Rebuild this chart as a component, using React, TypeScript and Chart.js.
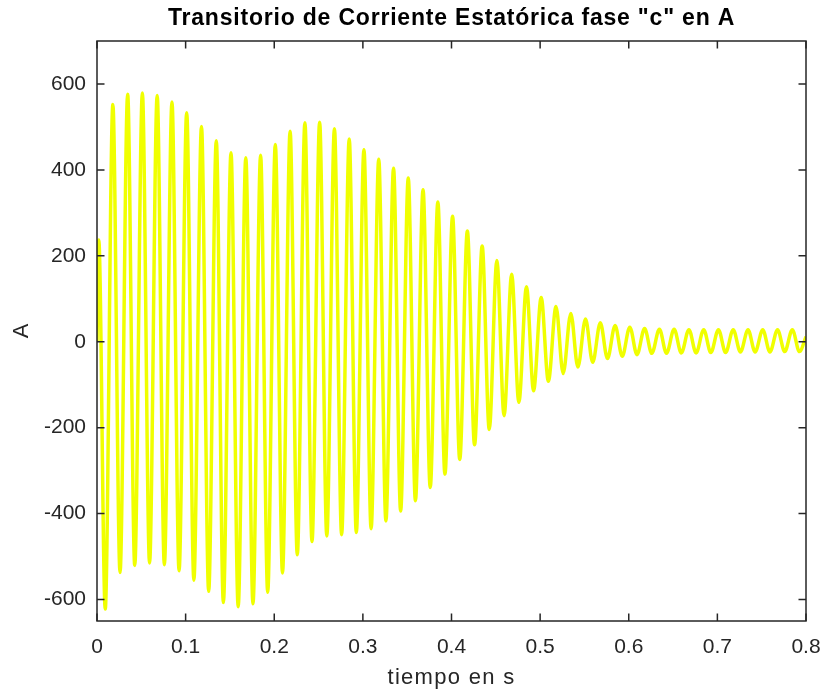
import React, { useEffect, useRef } from "react";
import { Chart, registerables } from "chart.js";

Chart.register(...registerables);

// --- Data ---
const titleText = 'Transitorio de Corriente Estatórica fase "c" en A';
const xTitle = "tiempo en s";
const yTitle = "A";

// start of the trace
const startTimes = [0, 0.002];
const startValues = [0, 237];

// positive extremes (s, A)
const peakTimes = [
  0.0179, 0.0346, 0.0512, 0.0679, 0.0846, 0.1012, 0.1179, 0.1346, 0.1512, 0.1679,
  0.1846, 0.2012, 0.2179, 0.2346, 0.2512, 0.2679, 0.2846, 0.3012, 0.3179, 0.3346,
  0.3512, 0.3679, 0.3846, 0.4012, 0.4179, 0.4346, 0.4512, 0.4679, 0.4846, 0.5012,
  0.5179, 0.5346, 0.5512, 0.5679, 0.5846, 0.6012, 0.6179, 0.6346, 0.6512, 0.6679,
  0.6846, 0.7012, 0.7179, 0.7346, 0.7512, 0.7679, 0.7846,
];
const peakValues = [
  552, 576, 579, 573, 558, 533, 501, 468, 440, 428,
  434, 459, 490, 510, 511, 496, 472, 447, 425, 404,
  381, 354, 325, 292, 258, 223, 189, 157, 128, 103,
  82, 66, 53, 44, 38, 34, 31, 29, 29, 28,
  28, 28, 28, 28, 28, 28, 28,
];

// negative extremes (s, A)
const troughTimes = [
  0.0093, 0.026, 0.0426, 0.0593, 0.076, 0.0926, 0.1093, 0.126, 0.1426, 0.1593,
  0.176, 0.1926, 0.2093, 0.226, 0.2426, 0.2593, 0.276, 0.2926, 0.3093, 0.326,
  0.3426, 0.3593, 0.376, 0.3926, 0.4093, 0.426, 0.4426, 0.4593, 0.476, 0.4926,
  0.5093, 0.526, 0.5426, 0.5593, 0.576, 0.5926, 0.6093, 0.626, 0.6426, 0.6593,
  0.676, 0.6926, 0.7093, 0.726, 0.7426, 0.7593, 0.776, 0.7926,
];
const troughValues = [
  -622, -537, -521, -515, -519, -533, -555, -581, -607, -617,
  -610, -583, -538, -496, -465, -452, -449, -444, -435, -417,
  -394, -370, -339, -308, -274, -240, -204, -172, -141, -114,
  -92, -74, -59, -48, -39, -34, -30, -27, -27, -26,
  -26, -25, -25, -24, -24, -24, -23, -23,
];

// end of the trace
const endTimes = [0.8];
const endValues = [12];

const xTickValues = [0, 0.1, 0.2, 0.3, 0.4, 0.5, 0.6, 0.7, 0.8];
const yTickValues = [-600, -400, -200, 0, 200, 400, 600];
const xMin = 0;
const xMax = 0.8;
const yMin = -650;
const yMax = 700;

const FONT = "'Liberation Sans', Arial, Helvetica, sans-serif";
const AXIS_COLOR = "#262626";
const LINE_COLOR = "#f0ff00";

function buildPoints() {
  const pts: { x: number; y: number }[] = [];
  startTimes.forEach((t, i) => pts.push({ x: t, y: startValues[i] }));
  peakTimes.forEach((t, i) => pts.push({ x: t, y: peakValues[i] }));
  troughTimes.forEach((t, i) => pts.push({ x: t, y: troughValues[i] }));
  endTimes.forEach((t, i) => pts.push({ x: t, y: endValues[i] }));
  pts.sort((a, b) => a.x - b.x);
  return pts;
}

const framePlugin = {
  id: "matlabFrame",
  afterDraw(chart: any) {
    const { ctx, chartArea } = chart;
    const { left, right, top, bottom } = chartArea;
    const xs = chart.scales.x;
    const ys = chart.scales.y;
    ctx.save();
    ctx.strokeStyle = AXIS_COLOR;
    ctx.lineWidth = 1.5;
    ctx.strokeRect(left, top, right - left, bottom - top);
    const tl = 7.5;
    ctx.beginPath();
    xTickValues.forEach((v) => {
      const px = xs.getPixelForValue(v);
      ctx.moveTo(px, bottom);
      ctx.lineTo(px, bottom - tl);
      ctx.moveTo(px, top);
      ctx.lineTo(px, top + tl);
    });
    yTickValues.forEach((v) => {
      const py = ys.getPixelForValue(v);
      ctx.moveTo(left, py);
      ctx.lineTo(left + tl, py);
      ctx.moveTo(right, py);
      ctx.lineTo(right - tl, py);
    });
    ctx.stroke();

    ctx.fillStyle = "#000";
    ctx.textAlign = "center";
    ctx.textBaseline = "middle";
    ctx.font = `bold 23px ${FONT}`;
    (ctx as any).letterSpacing = "0.8px";
    ctx.fillText(titleText, (left + right) / 2, 19);

    ctx.fillStyle = AXIS_COLOR;
    ctx.font = `22px ${FONT}`;
    (ctx as any).letterSpacing = "1.3px";
    ctx.fillText(xTitle, (left + right) / 2, 678);

    (ctx as any).letterSpacing = "0px";
    ctx.save();
    ctx.translate(22, (top + bottom) / 2);
    ctx.rotate(-Math.PI / 2);
    ctx.fillText(yTitle, 0, 0);
    ctx.restore();
    ctx.restore();
  },
};

export default function App() {
  const canvasRef = useRef<HTMLCanvasElement | null>(null);

  useEffect(() => {
    if (!canvasRef.current) return;
    const chart = new Chart(canvasRef.current, {
      type: "line",
      data: {
        datasets: [
          {
            data: buildPoints(),
            borderColor: LINE_COLOR,
            borderWidth: 3.5,
            pointRadius: 0,
            fill: false,
            cubicInterpolationMode: "monotone",
          },
        ],
      },
      options: {
        animation: false,
        responsive: false,
        maintainAspectRatio: false,
        layout: { padding: { top: 41, right: 19, left: 0, bottom: 0 } },
        plugins: {
          legend: { display: false },
          title: { display: false },
          tooltip: { enabled: false },
        },
        scales: {
          x: {
            type: "linear",
            min: xMin,
            max: xMax,
            afterBuildTicks: (scale: any) => {
              scale.ticks = xTickValues.map((v) => ({ value: v }));
            },
            afterFit: (scale: any) => {
              scale.height = 73;
              scale.paddingLeft = 0;
              scale.paddingRight = 0;
            },
            grid: { display: false, drawTicks: false },
            border: { display: false },
            ticks: {
              color: AXIS_COLOR,
              font: { family: FONT, size: 21 },
              padding: 14,
              maxRotation: 0,
              callback: (v: any) => String(Number(Number(v).toFixed(1))),
            },
          },
          y: {
            type: "linear",
            min: yMin,
            max: yMax,
            afterBuildTicks: (scale: any) => {
              scale.ticks = yTickValues.map((v) => ({ value: v }));
            },
            afterFit: (scale: any) => {
              scale.width = 97;
              scale.paddingTop = 0;
              scale.paddingBottom = 0;
            },
            grid: { display: false, drawTicks: false },
            border: { display: false },
            ticks: {
              color: AXIS_COLOR,
              font: { family: FONT, size: 21 },
              padding: 11,
              callback: (v: any) => String(v),
            },
          },
        },
      },
      plugins: [framePlugin],
    });
    return () => chart.destroy();
  }, []);

  return (
    <div style={{ position: "absolute", left: 0, top: 0, width: 825, height: 694, background: "#fff" }}>
      <canvas ref={canvasRef} width={825} height={694} style={{ width: 825, height: 694 }} />
    </div>
  );
}
